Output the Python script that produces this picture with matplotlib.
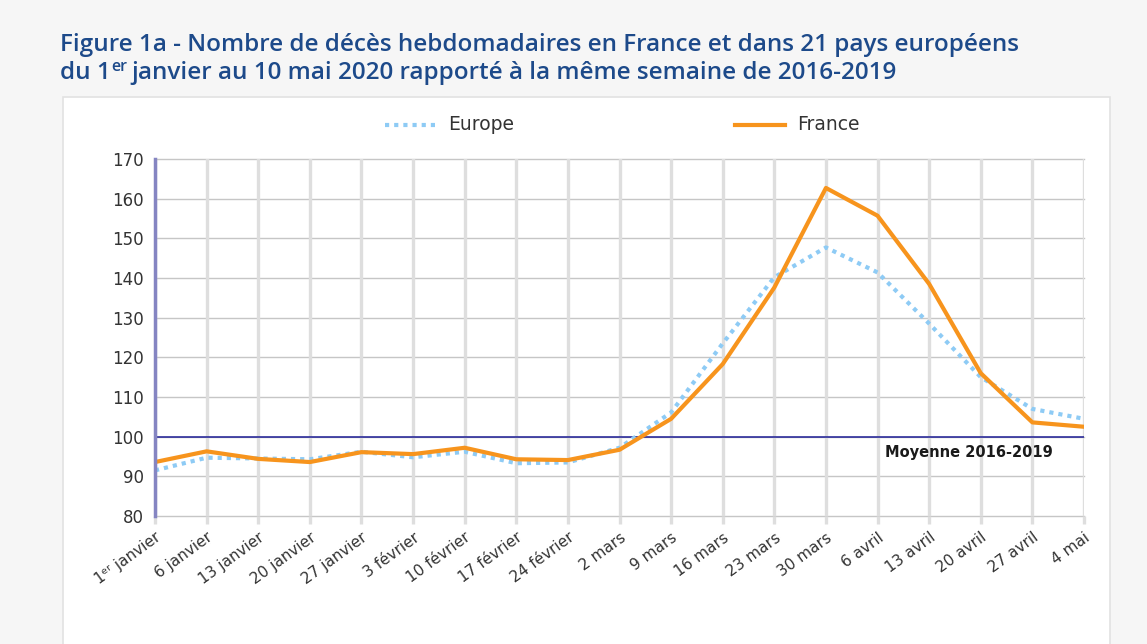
import matplotlib
matplotlib.use("Agg")
import matplotlib.pyplot as plt
from matplotlib.patches import Rectangle
from matplotlib.lines import Line2D

plt.rcParams['font.family'] = ['DejaVu Sans']

labels = ["1ᵉʳ janvier", "6 janvier", "13 janvier", "20 janvier", "27 janvier",
          "3 février", "10 février", "17 février", "24 février", "2 mars",
          "9 mars", "16 mars", "23 mars", "30 mars", "6 avril", "13 avril",
          "20 avril", "27 avril", "4 mai"]
europe = [91.5, 94.7, 94.5, 94.3, 96.2, 94.8, 96.2, 93.3, 93.5, 97.2,
          106.1, 123.5, 140.2, 147.7, 141.4, 128.5, 115.0, 107.0, 104.5]
france = [93.6, 96.3, 94.4, 93.6, 96.1, 95.6, 97.2, 94.3, 94.1, 96.7,
          104.5, 118.3, 137.6, 162.7, 155.7, 138.5, 116.0, 103.6, 102.5]
yticks = [80, 90, 100, 110, 120, 130, 140, 150, 160, 170]
reference = 100
ref_label = "Moyenne 2016-2019"
series_names = ["Europe", "France"]

W, H = 1147, 644
fig = plt.figure(figsize=(W / 100, H / 100), dpi=100)
fig.patch.set_facecolor("#f6f6f6")

# white panel
panel = Rectangle((63 / W, -0.05), (1110 - 63) / W, (644 - 97) / H + 0.05,
                  transform=fig.transFigure, facecolor="white",
                  edgecolor="#e2e2e2", linewidth=1.2, zorder=-10)
fig.add_artist(panel)

ax = fig.add_axes([155 / W, (H - 516) / H, (1084 - 155) / W, 357 / H])
ax.set_facecolor("none")
ax.set_zorder(1)
x = list(range(len(labels)))

for yv in yticks:
    ax.axhline(yv, color="#c6c6c6", linewidth=1.0, zorder=1, clip_on=False)
for xv in x:
    ax.axvline(xv, color="#dedede", linewidth=2.4, zorder=1)

ax.axhline(reference, color="#1c1c94", linewidth=1.1, zorder=2)

eu_style = dict(color="#8ecbf5", linewidth=3.0, linestyle=(0, (1, 1.2)))
fr_style = dict(color="#f7941d", linewidth=3.0)
ax.plot(x, europe, zorder=3, **eu_style)
ax.plot(x, france, zorder=4, **fr_style)

ax.text(15.76, 96.0, ref_label, fontsize=10.5, fontweight="bold", color="#1a1a1a",
        ha="center", va="center", zorder=5)

ax.set_xlim(0, len(labels) - 1)
ax.set_ylim(80, 170)
ax.set_yticks(yticks)
ax.set_xticks(x)
ax.set_xticklabels(labels, rotation=36, ha="right", rotation_mode="anchor")
ax.tick_params(axis="x", length=6, width=2.4, color="#dedede", labelsize=11,
               labelcolor="#333333", pad=4)
ax.tick_params(axis="y", length=0, labelsize=12, labelcolor="#333333", pad=8)

for s in ["top", "right", "bottom"]:
    ax.spines[s].set_visible(False)
ax.spines["left"].set_color("#8585c2")
ax.spines["left"].set_linewidth(2.5)
ax.spines["left"].set_zorder(6)

# legend (manual, in figure pixels)
ly = 1 - 125 / H
for (x0, x1, tx), name, st in zip([(385, 435, 448), (735, 785, 797)], series_names,
                                  [eu_style, fr_style]):
    fig.add_artist(Line2D([x0 / W, x1 / W], [ly, ly], transform=fig.transFigure, **st))
    fig.text(tx / W, ly, name, fontsize=13.5, color="#333333", ha="left", va="center")

# title with superscript
title_color = "#1d4a8a"
tfs = 17.5
tfam = ["Open Sans", "DejaVu Sans"]
fig.text(60 / W, 1 - 45 / H,
         "Figure 1a - Nombre de décès hebdomadaires en France et dans 21 pays européens",
         fontsize=tfs, fontweight="semibold", color=title_color, ha="left", va="center",
         family=tfam)
fig.canvas.draw()
r = fig.canvas.get_renderer()
t1 = fig.text(60 / W, 1 - 73 / H, "du 1", fontsize=tfs, fontweight="semibold",
              color=title_color, ha="left", va="center", family=tfam)
bb = t1.get_window_extent(r)
t2 = fig.text(bb.x1 / W, 1 - 67 / H, "er", fontsize=tfs * 0.66, fontweight="semibold",
              color=title_color, ha="left", va="center", family=tfam)
bb2 = t2.get_window_extent(r)
fig.text(bb2.x1 / W + 5 / W, 1 - 73 / H,
         "janvier au 10 mai 2020 rapporté à la même semaine de 2016-2019",
         fontsize=tfs, fontweight="semibold", color=title_color, ha="left", va="center",
         family=tfam)

fig.savefig("out.png", dpi=100, facecolor=fig.get_facecolor())
